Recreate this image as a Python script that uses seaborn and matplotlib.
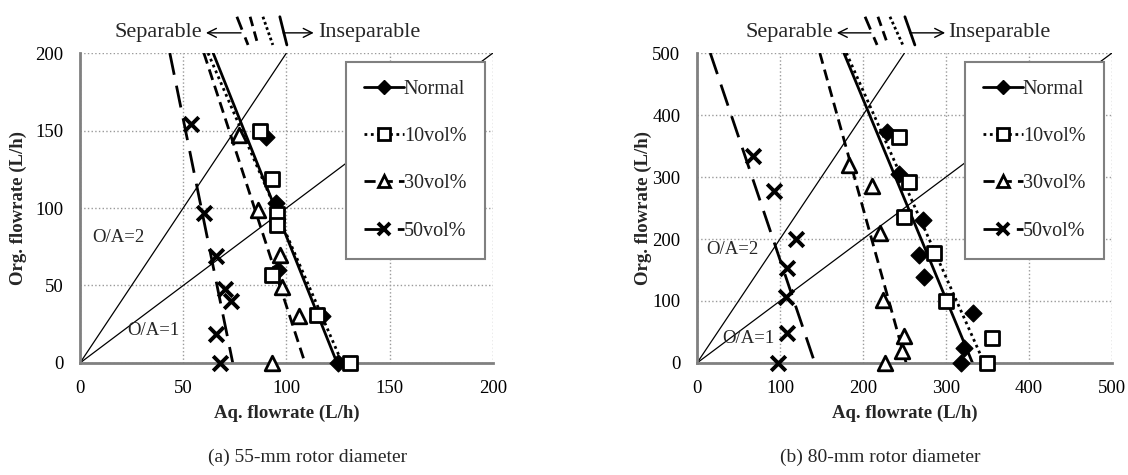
import matplotlib
matplotlib.use('Agg')
import matplotlib.pyplot as plt
from matplotlib.lines import Line2D
from matplotlib.ticker import MultipleLocator
import seaborn as sns

# series shown in both panels
series_names = ['Normal', '10vol%', '30vol%', '50vol%']

# (a) 55-mm rotor: measured points, Aq. flowrate vs Org. flowrate (L/h)
normal_55_aq = [90, 95, 96, 117, 125]
normal_55_org = [146, 103, 60, 30, 0]
vol10_55_aq = [87, 93, 95.5, 95.5, 93, 115, 131]
vol10_55_org = [150, 119, 96, 89, 57, 31, 0]
vol30_55_aq = [77, 86, 97, 98, 106, 93]
vol30_55_org = [147, 99, 70, 49, 30, 0]
vol50_55_aq = [54, 60, 66, 70, 73, 66, 68]
vol50_55_org = [154, 97, 69, 48, 40, 19, 0]

# (b) 80-mm rotor
normal_80_aq = [229, 243, 272, 267, 273, 332, 322, 318]
normal_80_org = [373, 305, 231, 175, 139, 81, 24, 0]
vol10_80_aq = [243, 255, 250, 285, 300, 355, 350]
vol10_80_org = [365, 292, 236, 178, 100, 41, 0]
vol30_80_aq = [183, 211, 221, 224, 250, 247, 226]
vol30_80_org = [320, 285, 210, 102, 43, 19, 0]
vol50_80_aq = [68, 93, 119, 108, 107, 108, 98]
vol50_80_org = [334, 278, 200, 153, 107, 49, 0]

# separation boundary lines: Aq. flowrate where each line meets the top / bottom of the axes
fit_55_top_aq = [64.5, 62, 60, 43.5]
fit_55_bottom_aq = [124.5, 127, 109, 74]
fit_80_top_aq = [177, 180, 148, 16]
fit_80_bottom_aq = [332, 346, 252, 142]

# O/A phase ratio guide lines
oa_ratios = [2, 1]

# styling per series
line_styles = ['-', (0, (1, 1.3)), (0, (4, 2.2)), (0, (8, 4))]
markers = ['D', 's', '^', 'x']
marker_sizes = [8.5, 10.5, 10.5, 10.5]
face_colors = ['black', 'white', 'white', 'black']
edge_widths = [1, 2, 2, 2.8]

sns.set_theme(style='white')
plt.rcParams['font.family'] = ['Liberation Serif', 'DejaVu Serif']
GRAY = '#808080'


def draw_panel(ax, pts, top_aq, bottom_aq, lim, major, minor, oa_pos, deco):
    # O/A guide lines from the origin
    for r in oa_ratios:
        sns.lineplot(x=[0, lim / r], y=[0, lim], ax=ax, color='black', lw=0.9,
                     estimator=None, sort=False, legend=False)
    for (tx, ty), r in zip(oa_pos, oa_ratios):
        ax.text(tx, ty, f'O/A={r}', fontsize=13.5, va='center', ha='left')

    for i, name in enumerate(series_names):
        sns.lineplot(x=[top_aq[i], bottom_aq[i]], y=[lim, 0], ax=ax, color='black',
                     lw=2.0, linestyle=line_styles[i], estimator=None, sort=False,
                     legend=False)
        aq, org = pts[i]
        if markers[i] == 'x':
            sns.scatterplot(x=aq, y=org, ax=ax, marker='x', s=marker_sizes[i] ** 2,
                            color='black', linewidth=edge_widths[i], clip_on=False,
                            zorder=4, legend=False)
        else:
            sns.scatterplot(x=aq, y=org, ax=ax, marker=markers[i], s=marker_sizes[i] ** 2,
                            color=face_colors[i], edgecolor='black',
                            linewidth=edge_widths[i], clip_on=False, zorder=4, legend=False)

    ax.set_xlim(0, lim)
    ax.set_ylim(0, lim)
    for axis in (ax.xaxis, ax.yaxis):
        axis.set_major_locator(MultipleLocator(major))
        axis.set_minor_locator(MultipleLocator(minor))
    ax.grid(True, which='major', color='#9a9a9a', ls=':', lw=1.0)
    ax.tick_params(which='both', direction='in', color=GRAY, width=1.2,
                   labelsize=13.5, labelcolor='black')
    ax.tick_params(which='major', length=5, pad=12)
    ax.tick_params(which='minor', length=4)
    for side in ('top', 'right'):
        ax.spines[side].set_visible(False)
    for side in ('left', 'bottom'):
        ax.spines[side].set_color(GRAY)
        ax.spines[side].set_linewidth(2)
    ax.set_xlabel('Aq. flowrate (L/h)', fontsize=13.5, fontweight='bold')
    ax.set_ylabel('Org. flowrate (L/h)', fontsize=13.5, fontweight='bold')

    handles = [Line2D([], [], color='black', lw=2, ls=line_styles[i], marker=markers[i],
                      ms=marker_sizes[i] * 0.85, mfc=face_colors[i], mec='black',
                      mew=edge_widths[i]) for i in range(len(series_names))]
    leg = ax.legend(handles, series_names, loc='upper right', bbox_to_anchor=(0.98, 0.972),
                    borderaxespad=0, fontsize=14.5, handlelength=2.0, handletextpad=0.0,
                    labelspacing=1.4, borderpad=0.9, fancybox=False, framealpha=1,
                    edgecolor=GRAY)
    leg.get_frame().set_linewidth(1.5)

    # "Separable <- \\\\ -> Inseparable" key above the axes
    sep_end, arr_l, slashes, arr_r, insep_start = deco
    yt = 1.065
    ax.text(sep_end, yt, 'Separable', transform=ax.transAxes, ha='right', va='center',
            fontsize=16)
    ax.text(insep_start, yt, 'Inseparable', transform=ax.transAxes, ha='left', va='center',
            fontsize=16)
    for xs in (arr_l, arr_r):
        ax.annotate('', xy=(xs[1], yt), xytext=(xs[0], yt), xycoords='axes fraction',
                    arrowprops=dict(arrowstyle='->', lw=1.0, color='black', shrinkA=0,
                                    shrinkB=0, mutation_scale=16),
                    annotation_clip=False)
    slash_styles = ['-', (0, (1, 1)), (0, (3.5, 2)), (0, (5, 3))]
    for (x0, x1), ls in zip(slashes, slash_styles[::-1]):
        ax.plot([x0, x1], [1.117, 1.026], transform=ax.transAxes, clip_on=False,
                color='black', lw=2.0, ls=ls)


fig = plt.figure(figsize=(11.28, 4.75), dpi=100)
ax_a = fig.add_axes([0.0709, 0.2358, 0.3661, 0.6526])
ax_b = fig.add_axes([0.6179, 0.2358, 0.3679, 0.6526])

pts_55 = [(normal_55_aq, normal_55_org), (vol10_55_aq, vol10_55_org),
          (vol30_55_aq, vol30_55_org), (vol50_55_aq, vol50_55_org)]
pts_80 = [(normal_80_aq, normal_80_org), (vol10_80_aq, vol10_80_org),
          (vol30_80_aq, vol30_80_org), (vol50_80_aq, vol50_80_org)]

draw_panel(ax_a, pts_55, fit_55_top_aq, fit_55_bottom_aq, 200, 50, 10,
           [(6, 81), (23, 21)],
           (0.295, (0.39, 0.305), [(0.38, 0.407), (0.412, 0.431), (0.443, 0.467), (0.484, 0.501)],
            (0.492, 0.566), 0.576))
draw_panel(ax_b, pts_80, fit_80_top_aq, fit_80_bottom_aq, 500, 100, 20,
           [(11, 183), (30, 40)],
           (0.328, (0.419, 0.337), [(0.405, 0.434), (0.436, 0.46), (0.465, 0.496), (0.501, 0.525)],
            (0.513, 0.598), 0.605))

ax_a.xaxis.set_label_coords(0.5, -0.135)
ax_b.xaxis.set_label_coords(0.5, -0.135)
ax_a.yaxis.set_label_coords(-0.128, 0.5)
ax_b.yaxis.set_label_coords(-0.108, 0.5)

fig.text(0.273, 0.038, '(a) 55-mm rotor diameter', ha='center', va='center', fontsize=14)
fig.text(0.780, 0.038, '(b) 80-mm rotor diameter', ha='center', va='center', fontsize=14)

fig.savefig('out.png', dpi=100)
